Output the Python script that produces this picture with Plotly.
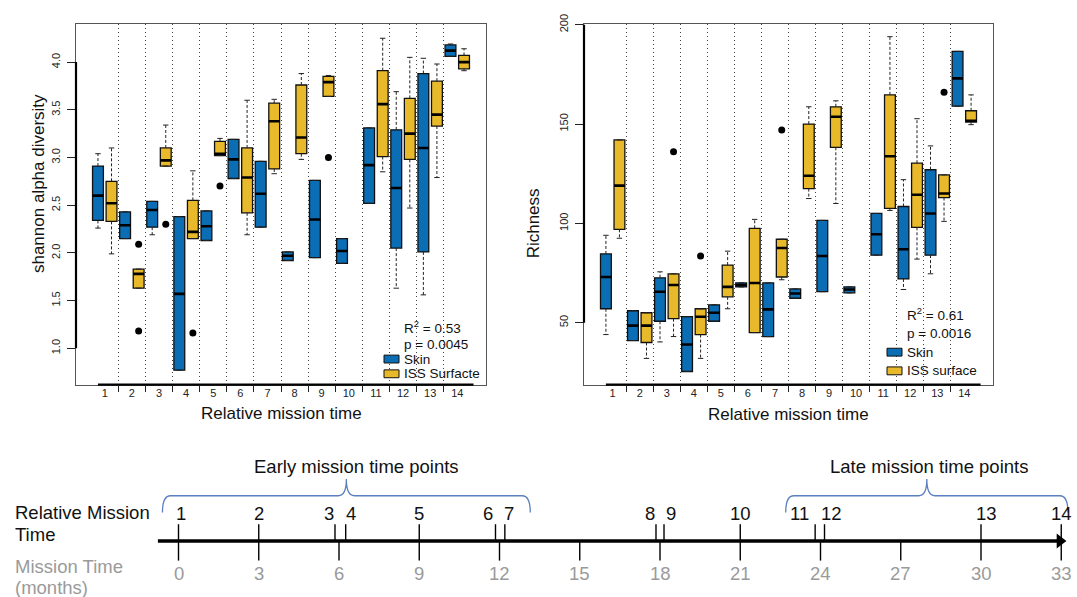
import plotly.graph_objects as go

W, H = 1077, 597

# ---------------- data ----------------
groups = list(range(1, 15))
group_labels = [str(g) for g in groups]

# Shannon alpha diversity: whisker low, Q1, median, Q3, whisker high
sh_skin_low  = [2.26, 2.15, 2.19, 0.77, 2.13, 2.78, 2.27, 1.92, 1.95, 1.89, 2.52, 1.63, 1.56, 4.06]
sh_skin_q1   = [2.34, 2.15, 2.27, 0.77, 2.13, 2.78, 2.27, 1.92, 1.95, 1.89, 2.52, 2.05, 2.01, 4.06]
sh_skin_med  = [2.60, 2.29, 2.45, 1.57, 2.28, 2.98, 2.62, 1.97, 2.35, 2.02, 2.92, 2.68, 3.10, 4.12]
sh_skin_q3   = [2.91, 2.43, 2.54, 2.38, 2.44, 3.19, 2.96, 2.01, 2.76, 2.15, 3.31, 3.29, 3.88, 4.18]
sh_skin_high = [3.04, 2.43, 2.54, 2.38, 2.44, 3.19, 2.96, 2.01, 2.76, 2.15, 3.31, 3.69, 4.04, 4.19]

sh_iss_low  = [1.99, 1.63, 2.91, 2.15, 3.02, 2.19, 2.83, 2.98, 3.64, None, 2.85, 2.47, 2.79, 3.91]
sh_iss_q1   = [2.33, 1.63, 2.91, 2.15, 3.02, 2.42, 2.88, 3.04, 3.64, None, 3.01, 2.98, 3.33, 3.93]
sh_iss_med  = [2.52, 1.78, 2.97, 2.22, 3.04, 2.79, 3.38, 3.21, 3.79, None, 3.56, 3.25, 3.45, 4.00]
sh_iss_q3   = [2.75, 1.83, 3.10, 2.55, 3.17, 3.10, 3.57, 3.76, 3.85, None, 3.91, 3.62, 3.80, 4.07]
sh_iss_high = [3.10, 1.83, 3.34, 2.86, 3.20, 3.60, 3.61, 3.88, 3.86, None, 4.25, 4.05, 3.98, 4.14]
sh_iss_out_group = [2, 2, 3, 4, 5, 9]
sh_iss_out_value = [2.09, 1.18, 2.30, 1.16, 2.70, 3.00]

# Richness
ri_skin_low  = [44, 41, 40.3, 25.4, 50.7, 68, 43, 62.3, 65.6, 65, 84, 66.7, 74.6, 159]
ri_skin_q1   = [57, 41, 50.7, 25.4, 50.7, 68, 43, 62.3, 65.6, 65, 84, 72, 84, 159]
ri_skin_med  = [73, 48.5, 65.6, 39, 55, 69, 56.7, 64.7, 83.6, 66.7, 94.5, 87, 105, 173]
ri_skin_q3   = [84.6, 56, 72.6, 53, 59, 70, 70, 67, 101.5, 68, 105, 108.5, 127, 186.6]
ri_skin_high = [94, 56, 75.6, 53, 59, 70, 70, 67, 101.5, 68, 105, 122, 139, 186.6]

ri_iss_low  = [92.5, 32, 43, 32, 57, 45, 71.6, 112.5, 110, None, 106.5, 82, 101, 149.7]
ri_iss_q1   = [97, 40, 52, 44, 63, 45, 73, 117.5, 138.3, None, 107.5, 98, 113, 151]
ri_iss_med  = [119, 48.5, 69, 53, 68, 70, 87.6, 124, 153.7, None, 133.8, 114.4, 115, 151.7]
ri_iss_q3   = [142, 55, 74.6, 57, 79, 97.5, 92, 150, 158.7, None, 164.7, 130.3, 124.4, 156.7]
ri_iss_high = [142, 55, 74.6, 57, 86, 102, 92, 158.7, 161.7, None, 194, 152.7, 124.4, 164.7]
ri_iss_out_group = [3, 4, 7, 13]
ri_iss_out_value = [136, 83.6, 147, 166]

shannon_ticks = [1.0, 1.5, 2.0, 2.5, 3.0, 3.5, 4.0]
richness_ticks = [50, 100, 150, 200]

# Timeline
relative_points = list(range(1, 15))
relative_months = [0, 3, 5.85, 6.25, 9, 11.85, 12.2, 17.85, 18.15, 21, 23.8, 24.15, 30, 33]
month_ticks = [0, 3, 6, 9, 12, 15, 18, 21, 24, 27, 30, 33]
early_span = [-0.6, 13.15]
late_span = [22.7, 33.25]

# ---------------- styling ----------------
BLUE = "#0B6DB4"
YELLOW = "#E8B92A"
FONT = "Liberation Sans, Arial, Helvetica, sans-serif"
label_shift = [2, 0, -6, 5, 0, -7, 4, -6, 7, 0, -16, 7, 5, 0]
TL_SIZE = 18.5

skin_x = [2 * g - 1 for g in groups]
iss_x = [2 * g for g in groups]
dividers = [2 * g + 0.5 for g in groups[:-1]]
label_pos = [2 * g - 0.5 for g in groups]
BW = 0.8


def px_x(p):
    return p / W


def px_y(p):
    return 1 - p / H


fig = go.Figure()


def add_boxes(xs, lo, q1, med, q3, hi, color, xa, ya):
    idx = [i for i in range(len(xs)) if med[i] is not None]
    wx, wy, cx, cy, mx, my = [], [], [], [], [], []
    for i in idx:
        x = xs[i]
        wx += [x, x, None, x, x, None]
        wy += [q3[i], hi[i], None, q1[i], lo[i], None]
        cx += [x - BW / 4, x + BW / 4, None, x - BW / 4, x + BW / 4, None]
        cy += [hi[i], hi[i], None, lo[i], lo[i], None]
        mx += [x - BW / 2, x + BW / 2, None]
        my += [med[i], med[i], None]
    fig.add_trace(go.Scatter(x=wx, y=wy, mode="lines", xaxis=xa, yaxis=ya,
                             line=dict(color="#222", width=1, dash="3px,2px"),
                             hoverinfo="skip"))
    fig.add_trace(go.Scatter(x=cx, y=cy, mode="lines", xaxis=xa, yaxis=ya,
                             line=dict(color="#222", width=1), hoverinfo="skip"))
    fig.add_trace(go.Bar(x=[xs[i] for i in idx], base=[q1[i] for i in idx],
                         y=[q3[i] - q1[i] for i in idx], width=BW,
                         xaxis=xa, yaxis=ya,
                         marker=dict(color=color, line=dict(color="#111", width=1.3)),
                         hoverinfo="skip"))
    fig.add_trace(go.Scatter(x=mx, y=my, mode="lines", xaxis=xa, yaxis=ya,
                             line=dict(color="#000", width=2.6), hoverinfo="skip"))


def add_outliers(grp, vals, xa, ya):
    fig.add_trace(go.Scatter(x=[2 * g for g in grp], y=vals, mode="markers",
                             xaxis=xa, yaxis=ya,
                             marker=dict(color="black", size=7), hoverinfo="skip"))


add_boxes(skin_x, sh_skin_low, sh_skin_q1, sh_skin_med, sh_skin_q3, sh_skin_high, BLUE, "x", "y")
add_boxes(iss_x, sh_iss_low, sh_iss_q1, sh_iss_med, sh_iss_q3, sh_iss_high, YELLOW, "x", "y")
add_outliers(sh_iss_out_group, sh_iss_out_value, "x", "y")

add_boxes(skin_x, ri_skin_low, ri_skin_q1, ri_skin_med, ri_skin_q3, ri_skin_high, BLUE, "x2", "y2")
add_boxes(iss_x, ri_iss_low, ri_iss_q1, ri_iss_med, ri_iss_q3, ri_iss_high, YELLOW, "x2", "y2")
add_outliers(ri_iss_out_group, ri_iss_out_value, "x2", "y2")

# ---------------- timeline ----------------
tx, ty = [], []
for m in month_ticks:
    tx += [m, m, None]
    ty += [540, 560, None]
rx, ry = [], []
for m in relative_months:
    rx += [m, m, None]
    ry += [523, 540, None]
fig.add_trace(go.Scatter(x=[-0.77, 32.9], y=[540, 540], mode="lines", xaxis="x3", yaxis="y3",
                         line=dict(color="black", width=3.5), hoverinfo="skip"))
fig.add_trace(go.Scatter(x=[32.95], y=[540], mode="markers", xaxis="x3", yaxis="y3",
                         marker=dict(symbol="triangle-right", color="black", size=13),
                         hoverinfo="skip"))
fig.add_trace(go.Scatter(x=tx, y=ty, mode="lines", xaxis="x3", yaxis="y3",
                         line=dict(color="black", width=1.4), hoverinfo="skip"))
fig.add_trace(go.Scatter(x=rx, y=ry, mode="lines", xaxis="x3", yaxis="y3",
                         line=dict(color="black", width=1.4), hoverinfo="skip"))

annotations = []
for m in month_ticks:
    annotations.append(dict(x=m, y=573, xref="x3", yref="y3", text=str(m), showarrow=False,
                            xanchor="center", yanchor="middle",
                            font=dict(size=TL_SIZE, color="#9a9a9a", family=FONT)))
for p, m, s in zip(relative_points, relative_months, label_shift):
    annotations.append(dict(x=m, y=512, xref="x3", yref="y3", text=str(p), showarrow=False,
                            xanchor="center", yanchor="middle",
                            xshift=s, font=dict(size=TL_SIZE, color="#111", family=FONT)))

for txt, yy, col in [("Relative Mission", 511, "#111"), ("Time", 533, "#111"),
                     ("Mission Time", 566, "#9a9a9a"), ("(months)", 587, "#9a9a9a")]:
    annotations.append(dict(x=px_x(13), y=yy, xref="paper", yref="y3", text=txt,
                            showarrow=False, xanchor="left", yanchor="middle",
                            font=dict(size=TL_SIZE, color=col, family=FONT)))


def brace(span, y_end=511, y_h=494, y_peak=477, r=0.3):
    L, R = span
    P = (L + R) / 2
    return (f"M {L},{y_end} Q {L},{y_h} {L + r},{y_h} L {P - r},{y_h} "
            f"Q {P},{y_h} {P},{y_peak} Q {P},{y_h} {P + r},{y_h} "
            f"L {R - r},{y_h} Q {R},{y_h} {R},{y_end}")


shapes = []
for span, label, shift in [(early_span, "Early mission time points", 10),
                           (late_span, "Late mission time points", 2)]:
    shapes.append(dict(type="path", path=brace(span), xref="x3", yref="y3",
                       line=dict(color="#5B7FC0", width=1.3)))
    annotations.append(dict(x=(span[0] + span[1]) / 2, y=464, xref="x3", yref="y3",
                            text=label, showarrow=False, xshift=shift,
                            xanchor="center", yanchor="middle",
                            font=dict(size=TL_SIZE, color="#111", family=FONT)))

# ---------------- box plot decorations ----------------
for xa, ya, ylo, yhi in [("x", "y", 1.0, 4.0), ("x2", "y2", 50, 200)]:
    shapes.append(dict(type="line", xref=f"{xa} domain", yref=ya, x0=0, x1=0, y0=ylo, y1=yhi,
                       line=dict(color="black", width=2.2)))
    shapes.append(dict(type="line", xref=xa, yref=f"{ya} domain", x0=1, x1=28.7, y0=0, y1=0,
                       line=dict(color="black", width=2.2)))

TITLE = dict(size=17, color="#111", family=FONT)
annotations += [
    dict(x=px_x(38), y=px_y(177), xref="paper", yref="paper", text="shannon alpha diversity",
         textangle=-90, showarrow=False, xanchor="center", yanchor="middle", font=TITLE),
    dict(x=px_x(533), y=px_y(217), xref="paper", yref="paper", text="Richness",
         textangle=-90, showarrow=False, xanchor="center", yanchor="middle", font=TITLE),
    dict(x=px_x(281), y=px_y(410), xref="paper", yref="paper", text="Relative mission time",
         showarrow=False, xanchor="center", yanchor="middle", font=TITLE),
    dict(x=px_x(788), y=px_y(411), xref="paper", yref="paper", text="Relative mission time",
         showarrow=False, xanchor="center", yanchor="middle", font=TITLE),
]

legend_specs = [
    (402, [322, 340, 355, 370], "R<sup>2</sup> = 0.53", "p = 0.0045", "ISS Surfacte"),
    (905, [309, 329, 348, 367], "R<sup>2</sup> = 0.61", "p = 0.0016", "ISS surface"),
]
for x0, ys, r2, pv, iss in legend_specs:
    for txt, yy in zip([r2, pv, "Skin", iss], ys):
        annotations.append(dict(x=px_x(x0), y=px_y(yy), xref="paper", yref="paper", text=txt,
                                showarrow=False, xanchor="left", yanchor="middle",
                                font=dict(size=13.5, color="#111", family=FONT)))
    for col, yy in [(BLUE, ys[2]), (YELLOW, ys[3])]:
        shapes.append(dict(type="rect", xref="paper", yref="paper",
                           x0=px_x(x0 - 18), x1=px_x(x0 - 3), y0=px_y(yy + 4), y1=px_y(yy - 4),
                           fillcolor=col, line=dict(color="#111", width=1)))


def box_xaxis(dom):
    return dict(domain=dom, range=[-0.62, 29.62], tickmode="array", tickvals=label_pos,
                ticktext=group_labels, ticks="", ticklen=0, ticklabelstandoff=-2,
                showgrid=False, zeroline=False,
                showline=True, mirror=True, linecolor="#555", linewidth=1,
                tickfont=dict(size=11, color="#222", family=FONT), fixedrange=True,
                minor=dict(tickmode="array", tickvals=dividers, ticks="outside", ticklen=6,
                           tickwidth=1, tickcolor="#222", showgrid=True, gridcolor="#444",
                           griddash="1px,3px", gridwidth=1))


def box_yaxis(rng, ticks, fmt, anchor):
    return dict(domain=[px_y(381), px_y(14)], range=rng, tickmode="array", tickvals=ticks,
                ticktext=[fmt.format(t) for t in ticks], ticks="outside", ticklen=8,
                tickwidth=1, tickcolor="#222", tickangle=-90, ticklabelstandoff=3,
                showgrid=False, zeroline=False,
                showline=True, mirror=True, linecolor="#555", linewidth=1, anchor=anchor,
                tickfont=dict(size=11, color="#222", family=FONT), fixedrange=True)


fig.update_layout(
    width=W, height=H, autosize=False,
    margin=dict(l=0, r=0, t=0, b=0),
    paper_bgcolor="white", plot_bgcolor="white",
    showlegend=False, barmode="overlay", hovermode=False,
    font=dict(family=FONT, color="#222"),
    xaxis=dict(box_xaxis([px_x(76), px_x(486)]), anchor="y"),
    yaxis=box_yaxis([0.619, 4.402], shannon_ticks, "{:.1f}", "x"),
    xaxis2=dict(box_xaxis([px_x(584), px_x(993)]), anchor="y2"),
    yaxis2=box_yaxis([18.8, 200.5], richness_ticks, "{:d}", "x2"),
    xaxis3=dict(domain=[0, 1], range=[-178.5 / 26.75, (W - 178.5) / 26.75], visible=False,
                anchor="y3", fixedrange=True),
    yaxis3=dict(domain=[0, px_y(430)], range=[597, 430], visible=False, anchor="x3",
                fixedrange=True),
    shapes=shapes,
    annotations=annotations,
)

fig.write_html("out.html")
